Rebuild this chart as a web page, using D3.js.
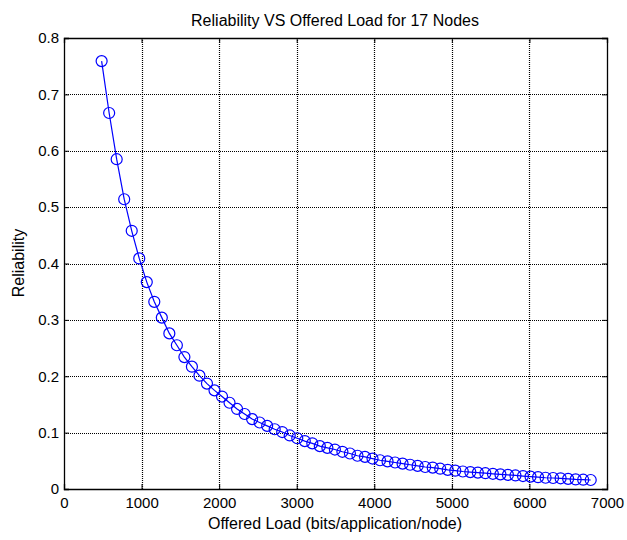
<!DOCTYPE html>
<html>
<head>
<meta charset="utf-8">
<script src="https://cdn.jsdelivr.net/npm/d3@7"></script>
<style>
  body { margin: 0; background: #fff; }
  text { font-family: "Liberation Sans", Arial, sans-serif; fill: #000; }
</style>
</head>
<body>
<svg id="chart" width="627" height="540"></svg>
<script>
// offered load (bits/application/node)
var offeredLoad = [485, 582, 679, 776, 873, 970, 1067, 1164, 1261, 1358,
  1455, 1552, 1649, 1746, 1843, 1940, 2037, 2134, 2231, 2328,
  2425, 2522, 2619, 2716, 2813, 2910, 3007, 3104, 3201, 3298,
  3395, 3492, 3589, 3686, 3783, 3880, 3977, 4074, 4171, 4268,
  4365, 4462, 4559, 4656, 4753, 4850, 4947, 5044, 5141, 5238,
  5335, 5432, 5529, 5626, 5723, 5820, 5917, 6014, 6111, 6208,
  6305, 6402, 6499, 6596, 6693, 6790];

var reliability = [0.759, 0.667, 0.585, 0.514, 0.458, 0.409, 0.367, 0.332, 0.304, 0.276,
  0.255, 0.234, 0.217, 0.201, 0.187, 0.175, 0.164, 0.153, 0.142, 0.133,
  0.124, 0.118, 0.112, 0.106, 0.101, 0.095, 0.090, 0.085, 0.081, 0.076,
  0.073, 0.070, 0.066, 0.063, 0.059, 0.057, 0.054, 0.051, 0.049, 0.047,
  0.045, 0.043, 0.041, 0.039, 0.038, 0.036, 0.034, 0.0325, 0.031, 0.030,
  0.029, 0.028, 0.027, 0.026, 0.025, 0.024, 0.023, 0.022, 0.021, 0.020,
  0.0195, 0.019, 0.018, 0.017, 0.0165, 0.016];

var xTicks = [0, 1000, 2000, 3000, 4000, 5000, 6000, 7000];
var yTicks = [0, 0.1, 0.2, 0.3, 0.4, 0.5, 0.6, 0.7, 0.8];

var titleText = "Reliability VS Offered Load for 17 Nodes";
var xLabel = "Offered Load (bits/application/node)";
var yLabel = "Reliability";

var svg = d3.select("#chart");
// plot box (avoid "top", it clashes with window.top)
var plotLeft = 64, plotRight = 607, plotTop = 38, plotBottom = 489;

var x = d3.scaleLinear().domain([0, 7000]).range([plotLeft, plotRight]);
var y = d3.scaleLinear().domain([0, 0.8]).range([plotBottom, plotTop]);

var data = offeredLoad.map(function(d, i) { return {x: d, y: reliability[i]}; });

// dotted grid
svg.append("g")
  .selectAll("line")
  .data(xTicks.slice(1, -1))
  .enter().append("line")
    .attr("x1", function(d) { return Math.round(x(d)) + 0.5; })
    .attr("x2", function(d) { return Math.round(x(d)) + 0.5; })
    .attr("y1", plotTop).attr("y2", plotBottom)
    .attr("stroke", "#000").attr("stroke-width", 1.2).attr("stroke-dasharray", "1,1");

svg.append("g")
  .selectAll("line")
  .data(yTicks.slice(1, -1))
  .enter().append("line")
    .attr("y1", function(d) { return Math.round(y(d)) + 0.5; })
    .attr("y2", function(d) { return Math.round(y(d)) + 0.5; })
    .attr("x1", plotLeft).attr("x2", plotRight)
    .attr("stroke", "#000").attr("stroke-width", 1.2).attr("stroke-dasharray", "1,1");

// axes (ticks pointing inward, MATLAB style)
svg.append("g")
  .attr("transform", "translate(0," + plotBottom + ")")
  .call(d3.axisBottom(x).tickValues(xTicks).tickSize(-5).tickPadding(8).tickFormat(d3.format("d")));
svg.append("g")
  .attr("transform", "translate(" + plotLeft + ",0)")
  .call(d3.axisLeft(y).tickValues(yTicks).tickSize(-5).tickPadding(5)
    .tickFormat(function(d) { return d === 0 ? "0" : d3.format(".1f")(d); }));
svg.append("g")
  .attr("transform", "translate(0," + plotTop + ")")
  .call(d3.axisTop(x).tickValues(xTicks).tickSize(-5).tickFormat(""));
svg.append("g")
  .attr("transform", "translate(" + plotRight + ",0)")
  .call(d3.axisRight(y).tickValues(yTicks).tickSize(-5).tickFormat(""));

svg.selectAll(".domain").attr("stroke", "#000").attr("stroke-width", 1.3);
svg.selectAll(".tick line").attr("stroke", "#000");
svg.selectAll(".tick text")
  .style("font-family", "'Liberation Sans', Arial, sans-serif")
  .style("font-size", "15px")
  .attr("fill", "#000");

// series line + circle markers
var line = d3.line()
  .x(function(d) { return x(d.x); })
  .y(function(d) { return y(d.y); });

svg.append("path")
  .datum(data)
  .attr("d", line)
  .attr("fill", "none")
  .attr("stroke", "#0000ff")
  .attr("stroke-width", 1.2);

svg.selectAll(".marker")
  .data(data)
  .enter().append("circle")
    .attr("class", "marker")
    .attr("cx", function(d) { return x(d.x); })
    .attr("cy", function(d) { return y(d.y); })
    .attr("r", 5.5)
    .attr("fill", "none")
    .attr("stroke", "#0000ff")
    .attr("stroke-width", 1.2);

// title and labels
svg.append("text")
  .attr("x", 335)
  .attr("y", 26)
  .attr("text-anchor", "middle")
  .style("font-size", "16px")
  .text(titleText);

svg.append("text")
  .attr("x", 335)
  .attr("y", 529)
  .attr("text-anchor", "middle")
  .style("font-size", "16px")
  .text(xLabel);

svg.append("text")
  .attr("transform", "translate(24,263) rotate(-90)")
  .attr("text-anchor", "middle")
  .style("font-size", "16px")
  .text(yLabel);
</script>
</body>
</html>
